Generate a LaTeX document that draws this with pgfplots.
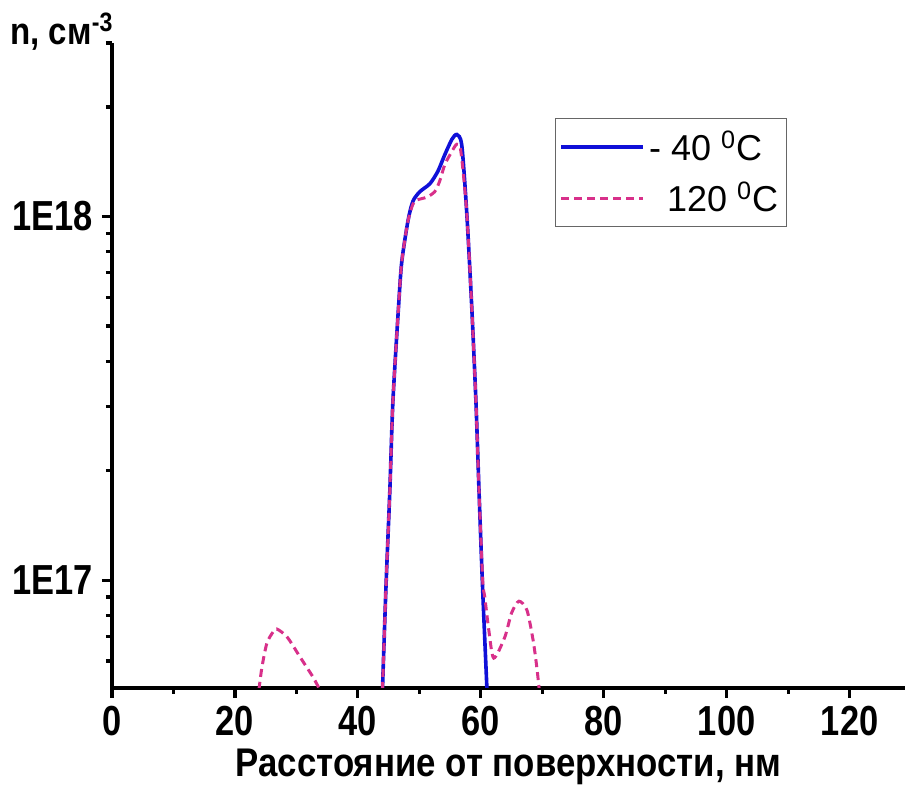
\documentclass[border=0pt]{standalone}
\usepackage{fontspec}
\setmainfont{Liberation Sans}
\newfontfamily\narrowbf[FakeStretch=0.82]{Liberation Sans Bold}
\newfontfamily\narrowlab[FakeStretch=0.87]{Liberation Sans Bold}
\usepackage{pgfplots}
\pgfplotsset{compat=1.18}
\definecolor{cBlue}{HTML}{1010D8}
\definecolor{cPink}{HTML}{D8308A}

\begin{document}
\begin{tikzpicture}
\useasboundingbox (-56pt,-49.5pt) rectangle (397.5pt,344pt);
\begin{axis}[
  at={(0,0)}, anchor=south west,
  scale only axis, width=396.5pt, height=322.5pt,
  ymode=log, xmin=0, xmax=129, ymin=5.06e16, ymax=3e18,
  axis lines=left, axis line style={-, line width=2pt},
  tick align=outside,
  major tick length=5pt, minor tick length=3pt,
  every tick/.style={black, line width=1.6pt},
  xtick={0,20,...,120}, minor xtick={10,30,...,130},
  ytick={1e17,1e18}, yticklabels={1E17,1E18},
  minor ytick={6e16,7e16,8e16,9e16,2e17,3e17,4e17,5e17,6e17,7e17,8e17,9e17,2e18,3e18},
  /pgf/number format/assume math mode=true,
  tick label style={font=\narrowbf\fontsize{21}{21}\selectfont},
  xticklabel style={yshift=-0.5pt},
  yticklabel style={xshift=-1pt},
  xlabel={\narrowlab\fontsize{20}{20}\selectfont Расстояние от поверхности, нм},
  xlabel style={yshift=0pt},
  clip mode=individual,
  legend style={at={(0.5586,0.8837)}, anchor=north west, draw=gray!80!black, line width=0.6pt,
    font=\fontsize{18}{18}\selectfont, inner xsep=2pt, inner ysep=4pt, row sep=5pt},
  legend cell align=left,
  legend image code/.code={\draw[#1] (0pt,0pt) -- (41pt,0pt);},
]
\addplot[cBlue, line width=1.8pt, smooth, tension=0.45] coordinates {
  (44.0,5e16) (44.55,9.4e16) (45.2,1.77e17) (45.7,3.11e17) (46.67,5.85e17)
  (47.15,7.54e17) (48.13,9.69e17) (48.94,1.10e18) (50.08,1.17e18) (51.7,1.23e18)
  (53.0,1.33e18) (54.15,1.48e18) (55.3,1.63e18) (56.1,1.68e18) (56.9,1.57e18)
  (57.7,1.03e18) (58.5,5.74e17) (59.2,3.11e17) (59.7,1.77e17) (60.3,9.4e16) (61.0,5e16)
};
\addlegendentry{- 40 \textsuperscript{0}C}
\addplot[cPink, line width=1.5pt, dash pattern=on 4pt off 2.5pt, smooth, tension=0.45] coordinates {
  (44.0,5e16) (44.55,9.4e16) (45.2,1.77e17) (45.7,3.11e17) (46.67,5.85e17)
  (47.15,7.54e17) (48.13,9.69e17) (48.94,1.08e18) (49.6,1.11e18) (51.2,1.13e18)
  (52.5,1.17e18) (53.3,1.25e18) (54.15,1.39e18) (55.3,1.51e18) (56.1,1.58e18)
  (56.75,1.51e18) (57.7,1.03e18) (58.5,5.74e17) (59.2,3.11e17) (59.7,1.77e17)
  (60.3,1.0e17) (60.65,8.98e16) (61.3,7.29e16) (62.1,6.11e16) (63.9,6.98e16)
  (65.0,8.13e16) (66.2,8.76e16) (67.5,8.28e16) (68.5,6.85e16) (69.1,5.78e16) (69.5,5e16)
};
\addlegendentry{\hspace{9pt}120 \textsuperscript{0}C}
\addplot[cPink, line width=1.5pt, dash pattern=on 4pt off 2.5pt, smooth, tension=0.45, forget plot] coordinates {
  (23.9,5e16) (24.4,5.78e16) (25.2,6.72e16) (26.2,7.21e16) (26.8,7.35e16)
  (28.5,6.98e16) (30.6,6.15e16) (32.7,5.42e16) (33.8,5e16)
};
\node[anchor=base west, font=\narrowlab\fontsize{19}{19}\selectfont, inner sep=0pt]
  at (rel axis cs:-0.1286,0.998) {n, см\textsuperscript{-3}};
\end{axis}
\end{tikzpicture}
\end{document}
